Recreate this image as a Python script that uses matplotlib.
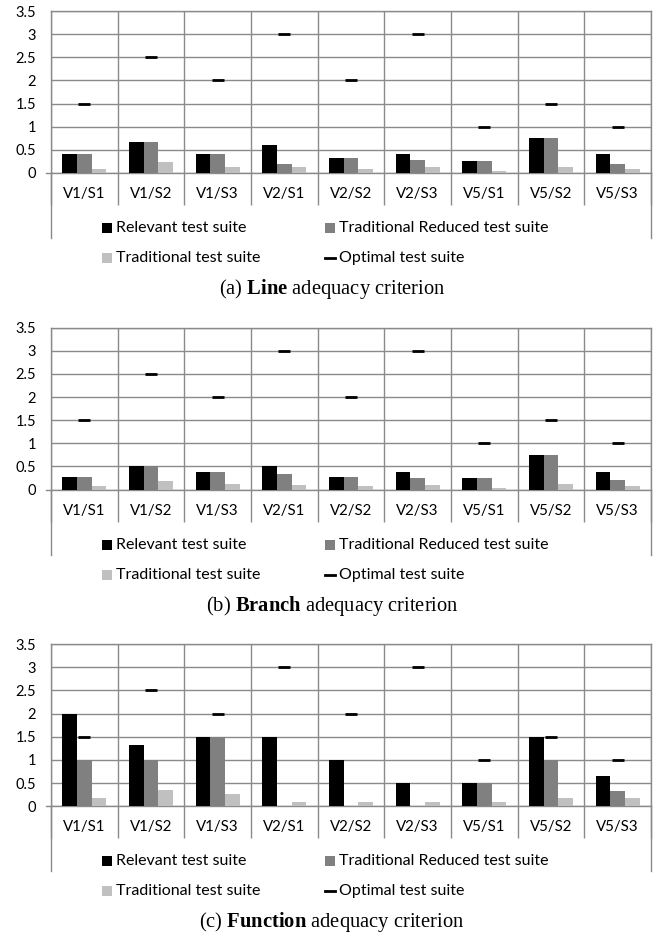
import matplotlib
matplotlib.use('Agg')
import matplotlib.pyplot as plt
from matplotlib.patches import Rectangle
from matplotlib.lines import Line2D
import numpy as np

categories = ['V1/S1', 'V1/S2', 'V1/S3', 'V2/S1', 'V2/S2', 'V2/S3', 'V5/S1', 'V5/S2', 'V5/S3']
ytick_values = [0, 0.5, 1, 1.5, 2, 2.5, 3, 3.5]
ytick_labels = ['0', '0.5', '1', '1.5', '2', '2.5', '3', '3.5']
series_names = ['Relevant test suite', 'Traditional Reduced test suite',
                'Traditional test suite', 'Optimal test suite']

line_relevant = [0.40, 0.66, 0.42, 0.60, 0.33, 0.42, 0.25, 0.75, 0.40]
line_trad_reduced = [0.40, 0.66, 0.42, 0.20, 0.33, 0.28, 0.25, 0.75, 0.20]
line_traditional = [0.09, 0.24, 0.14, 0.14, 0.09, 0.14, 0.04, 0.14, 0.09]
line_optimal = [1.5, 2.5, 2, 3, 2, 3, 1, 1.5, 1]

branch_relevant = [0.28, 0.50, 0.37, 0.50, 0.28, 0.37, 0.24, 0.74, 0.39]
branch_trad_reduced = [0.28, 0.50, 0.37, 0.33, 0.28, 0.24, 0.24, 0.74, 0.20]
branch_traditional = [0.08, 0.19, 0.12, 0.11, 0.08, 0.11, 0.04, 0.12, 0.08]
branch_optimal = [1.5, 2.5, 2, 3, 2, 3, 1, 1.5, 1]

function_relevant = [2.0, 1.33, 1.5, 1.5, 1.0, 0.5, 0.5, 1.5, 0.66]
function_trad_reduced = [1.0, 1.0, 1.5, 0, 0, 0, 0.5, 1.0, 0.33]
function_traditional = [0.18, 0.36, 0.27, 0.09, 0.09, 0.09, 0.09, 0.17, 0.17]
function_optimal = [1.5, 2.5, 2, 3, 2, 3, 1, 1.5, 1]

captions = [('(a) ', 'Line', ' adequacy criterion'),
            ('(b) ', 'Branch', ' adequacy criterion'),
            ('(c) ', 'Function', ' adequacy criterion')]

panels = [
    (line_relevant, line_trad_reduced, line_traditional, line_optimal),
    (branch_relevant, branch_trad_reduced, branch_traditional, branch_optimal),
    (function_relevant, function_trad_reduced, function_traditional, function_optimal),
]

W, H = 662, 935
DPI = 100
plt.rcParams['font.family'] = ['Lato', 'DejaVu Sans']
plt.rcParams['mathtext.fontset'] = 'custom'
plt.rcParams['mathtext.rm'] = 'Liberation Serif'
plt.rcParams['mathtext.bf'] = 'Liberation Serif:bold'

fig = plt.figure(figsize=(W / DPI, H / DPI), dpi=DPI)

GRID = '#8a8a8a'
C_BLACK = '#000000'
C_GRAY = '#808080'
C_LIGHT = '#c0c0c0'
px_to_pt = 72.0 / DPI


def fx(px):
    return px / W


def fy(py):
    return 1 - py / H


x = np.arange(len(categories))
bw = 0.22
offset = 316.6

for i, (rel, red, trad, opt) in enumerate(panels):
    o = offset * i
    top = 11 + o
    bottom = 173 + o
    ax = fig.add_axes([fx(51), fy(bottom), fx(600), (bottom - top) / H])
    ax.set_xlim(-0.5, len(categories) - 0.5)
    ax.set_ylim(0, 3.5)
    ax.bar(x - bw, rel, bw, color=C_BLACK, zorder=3)
    ax.bar(x, red, bw, color=C_GRAY, zorder=3)
    ax.bar(x + bw, trad, bw, color=C_LIGHT, zorder=3)
    ax.plot(x, opt, linestyle='none', marker='_', color='black',
            markersize=12.5 * px_to_pt, markeredgewidth=2.8 * px_to_pt, zorder=4)

    ax.set_yticks(ytick_values)
    ax.set_yticklabels(ytick_labels)
    ax.set_xticks(x)
    ax.set_xticklabels(categories)
    ax.set_xticks(np.arange(-0.5, len(categories), 1.0), minor=True)
    ax.tick_params(axis='y', length=0, pad=15 * px_to_pt, labelsize=10.5, labelcolor='#000000')
    ax.tick_params(axis='x', which='major', length=0, pad=14 * px_to_pt, labelsize=10.8)
    ax.tick_params(axis='x', which='minor', length=32 * px_to_pt, width=1.0, color=GRID, direction='out')
    ax.grid(True, axis='y', color=GRID, linewidth=1.0, zorder=0)
    ax.grid(True, axis='x', which='minor', color=GRID, linewidth=1.0, zorder=0)
    for s in ax.spines.values():
        s.set_color(GRID)
        s.set_linewidth(1.0)
    # outer borders extend down to enclose the first legend row
    ext = 65.0 / (bottom - top)
    for xa in (0.0, 1.0):
        ax.add_line(Line2D([xa, xa], [0, -ext], transform=ax.transAxes, color=GRID,
                           linewidth=1.0, clip_on=False))
    ax.add_line(Line2D([-5.0 / 600, 0], [0, 0], transform=ax.transAxes, color=GRID,
                       linewidth=1.0, clip_on=False))

    # legend (manual layout, Excel style)
    leg_pos = [(102, 228, 'box', C_BLACK, series_names[0]),
               (325, 228, 'box', C_GRAY, series_names[1]),
               (102, 258, 'box', C_LIGHT, series_names[2]),
               (325, 258, 'dash', 'black', series_names[3])]
    for (lx, ly, kind, col, lab) in leg_pos:
        ly = ly + o
        if kind == 'box':
            fig.add_artist(Rectangle((fx(lx), fy(ly + 5)), fx(10), 10 / H,
                                     facecolor=col, edgecolor='none', transform=fig.transFigure))
        else:
            fig.add_artist(Line2D([fx(lx), fx(lx + 10)], [fy(ly), fy(ly)], color=col,
                                  linewidth=2.8 * px_to_pt, transform=fig.transFigure))
        fig.text(fx(lx + 14), fy(ly), lab, ha='left', va='center', fontsize=11.5)

    pre, bold, post = captions[i]
    fig.text(fx(332), fy(289 + o), pre + r'$\mathbf{' + bold + '}$' + post,
             ha='center', va='center', fontsize=14.8, family='Liberation Serif')

fig.savefig('out.png', dpi=DPI)
